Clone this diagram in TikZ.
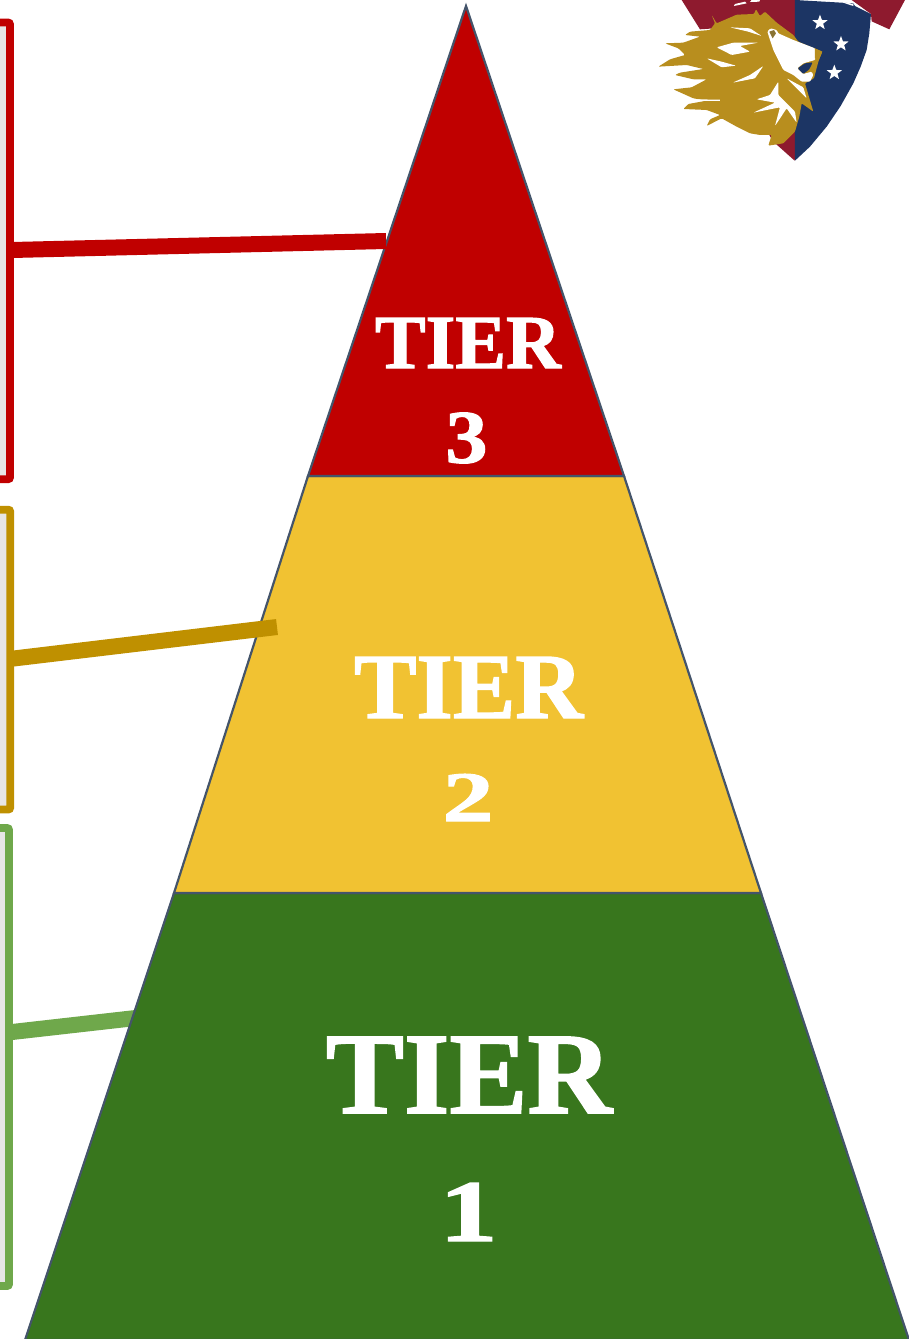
\documentclass[tikz,border=0pt]{standalone}
\usepackage{graphicx}
\usepackage{fontspec}
\setmainfont{Liberation Serif}
\newfontfamily\tierfont[FakeBold=1.5]{Liberation Serif Bold}
\usetikzlibrary{shapes.geometric}
\definecolor{tred}{HTML}{C00000}
\definecolor{tyel}{HTML}{F1C232}
\definecolor{tgrn}{HTML}{38761D}
\definecolor{lnk}{HTML}{44546A}
\definecolor{redbd}{HTML}{C00000}
\definecolor{goldbd}{HTML}{BF9000}
\definecolor{grnbd}{HTML}{6FA84B}
\definecolor{boxin}{HTML}{E7E6E6}
\definecolor{lionG}{HTML}{B88E1E}
\definecolor{shR}{HTML}{8E1A2E}
\definecolor{shB}{HTML}{1C3564}
\newcommand{\tierword}[3]{\resizebox{#1pt}{#2pt}{\tierfont #3}}
\tikzset{
 x=1pt,y=-1pt,
 tier/.style={draw=lnk,line width=2.2pt,line join=miter},
 side/.style={line width=7.8pt,fill=boxin,rounded corners=2pt},
 lead/.style={line width=16pt},
 tiertext/.style={text=white,inner sep=0pt,outer sep=0pt},
 logostar/.style={star,star points=5,star point ratio=2.4,fill=white,draw=none,minimum size=16pt,inner sep=0pt},
 softer/.style={rounded corners=1pt}
}
\begin{document}
\begin{tikzpicture}
\useasboundingbox (0,0) rectangle (909,1339);
% side boxes
\draw[side,draw=redbd]  (-20,22.5) rectangle (10,479.2);
\draw[side,draw=goldbd] (-20,509.7) rectangle (10.2,809.5);
\draw[side,draw=grnbd]  (-20,828) rectangle (9,1286);
% coordinates
\coordinate (a) at (466,6);
\coordinate (l3) at (308,476); \coordinate (r3) at (624,476);
\coordinate (l2) at (174,893); \coordinate (r2) at (761,893);
\coordinate (l1) at (25,1340); \coordinate (r1) at (909,1340);
% green lead under the pyramid
\coordinate (g0) at (12,1032); \coordinate (g1) at (140,1017.5);
\draw[lead,draw=grnbd] (g0) -- (g1);
% pyramid
\draw[tier,fill=tgrn] (l2) -- (r2) -- (r1) -- (l1) -- cycle;
\draw[tier,fill=tyel] (l3) -- (r3) -- (r2) -- (l2) -- cycle;
\draw[tier,fill=tred] (a) -- (r3) -- (l3) -- cycle;
% other leads
\coordinate (r0) at (12,250); \coordinate (re) at (386,241);
\draw[lead,draw=redbd] (r0) -- (re);
\coordinate (y0) at (12,658.7); \coordinate (ye) at (277,627);
\draw[lead,draw=goldbd] (y0) -- (ye);
% labels
\node[tiertext] (t3a) at (468,343) {\tierword{186}{50}{TIER}};
\node[tiertext] (t3b) at (466.5,438) {\tierword{42}{50}{3}};
\node[tiertext] (t2a) at (468.5,687.5) {\tierword{229}{61}{TIER}};
\node[tiertext] (t2b) at (468,797.5) {\tierword{51}{47}{2}};
\node[tiertext] (t1a) at (469,1075) {\tierword{286}{76}{TIER}};
\node[tiertext] (t1b) at (468.5,1212) {\tierword{58}{58}{1}};
% logo
\begin{scope}[shift={(640,0)},x=0.3333pt,y=-0.3333pt]
\fill[shR] (125,0) -- (180,88) -- (300,80) -- (385,400) -- (400,425) -- (464,482) -- (480,300) -- (480,0) -- cycle;
\fill[shR] (635,0) -- (795,0) -- (748,88) -- (695,64) -- (693,42) -- cycle;
\fill[shB] (465,0) -- (640,10) -- (645,18) -- (693,42) -- (688,100) -- (680,150) -- (662,200) -- (640,250) -- (602,318) -- (560,380) -- (510,440) -- (465,482) -- cycle;
\fill[white] (282,18) -- (285,12) -- (315,5) -- (320,10) -- cycle;
\fill[white] (330,6) -- (335,0) -- (360,0) -- (358,5) -- cycle;
\fill[white] (535,0) -- (565,0) -- (560,4) -- cycle;
\fill[white] (605,5) -- (640,12) -- (640,18) -- (615,10) -- cycle;
\node[logostar] (s1) at (540,68) {};
\node[logostar] (s2) at (603,132) {};
\node[logostar] (s3) at (583,218) {};
\fill[lionG,softer] (215,45) -- (230,70) -- (290,44) -- (342,42) -- (348,28) -- (360,48) -- (375,35) -- (410,68) -- (460,105) -- (475,125) -- (547,155) -- (535,185) -- (522,235) -- (495,250) -- (520,335) -- (485,310) -- (478,350) -- (465,395) -- (430,430) -- (385,437) -- (395,405) -- (360,405) -- (330,400) -- (290,380) -- (245,355) -- (200,378) -- (210,358) -- (240,345) -- (200,330) -- (130,327) -- (145,312) -- (200,302) -- (160,295) -- (100,268) -- (155,262) -- (200,238) -- (160,238) -- (105,225) -- (120,218) -- (190,207) -- (140,195) -- (55,200) -- (90,178) -- (135,165) -- (115,145) -- (75,130) -- (130,128) -- (180,110) -- (135,105) -- (150,95) -- (210,90) -- (225,70) -- cycle;
\fill[white,softer] (382,95) -- (392,85) -- (410,90) -- (415,100) -- (460,120) -- (525,145) -- (530,165) -- (525,180) -- (490,190) -- (472,205) -- (490,222) -- (515,215) -- (520,225) -- (510,245) -- (485,245) -- (460,225) -- (430,210) -- (400,150) -- cycle;
\fill[lionG] (525,145) -- (547,155) -- (535,182) -- (525,175) -- cycle;
\fill[shB,softer] (473,205) -- (495,190) -- (518,187) -- (508,208) -- (490,222) -- cycle;
\fill[lionG!70!shB] (388,95) -- (402,90) -- (408,100) -- (398,115) -- cycle;
\fill[white,softer] (270,82) -- (330,85) -- (365,108) -- (325,95) -- cycle;
\fill[white,softer] (230,142) -- (280,128) -- (355,128) -- (300,138) -- (330,155) -- (275,165) -- cycle;
\fill[white,softer] (200,175) -- (245,185) -- (288,197) -- (245,202) -- cycle;
\fill[white,softer] (278,248) -- (330,225) -- (370,198) -- (345,235) -- cycle;
\fill[white] (160,298) -- (240,299) -- (240,303) -- (175,303) -- cycle;
\fill[white,softer] (350,298) -- (390,285) -- (415,245) -- (415,285) -- (465,335) -- (470,368) -- (440,325) -- (405,378) -- (420,322) -- (340,338) -- (405,308) -- cycle;
\fill[white,softer] (440,235) -- (490,262) -- (500,295) -- cycle;
\end{scope}
\end{tikzpicture}
\end{document}
